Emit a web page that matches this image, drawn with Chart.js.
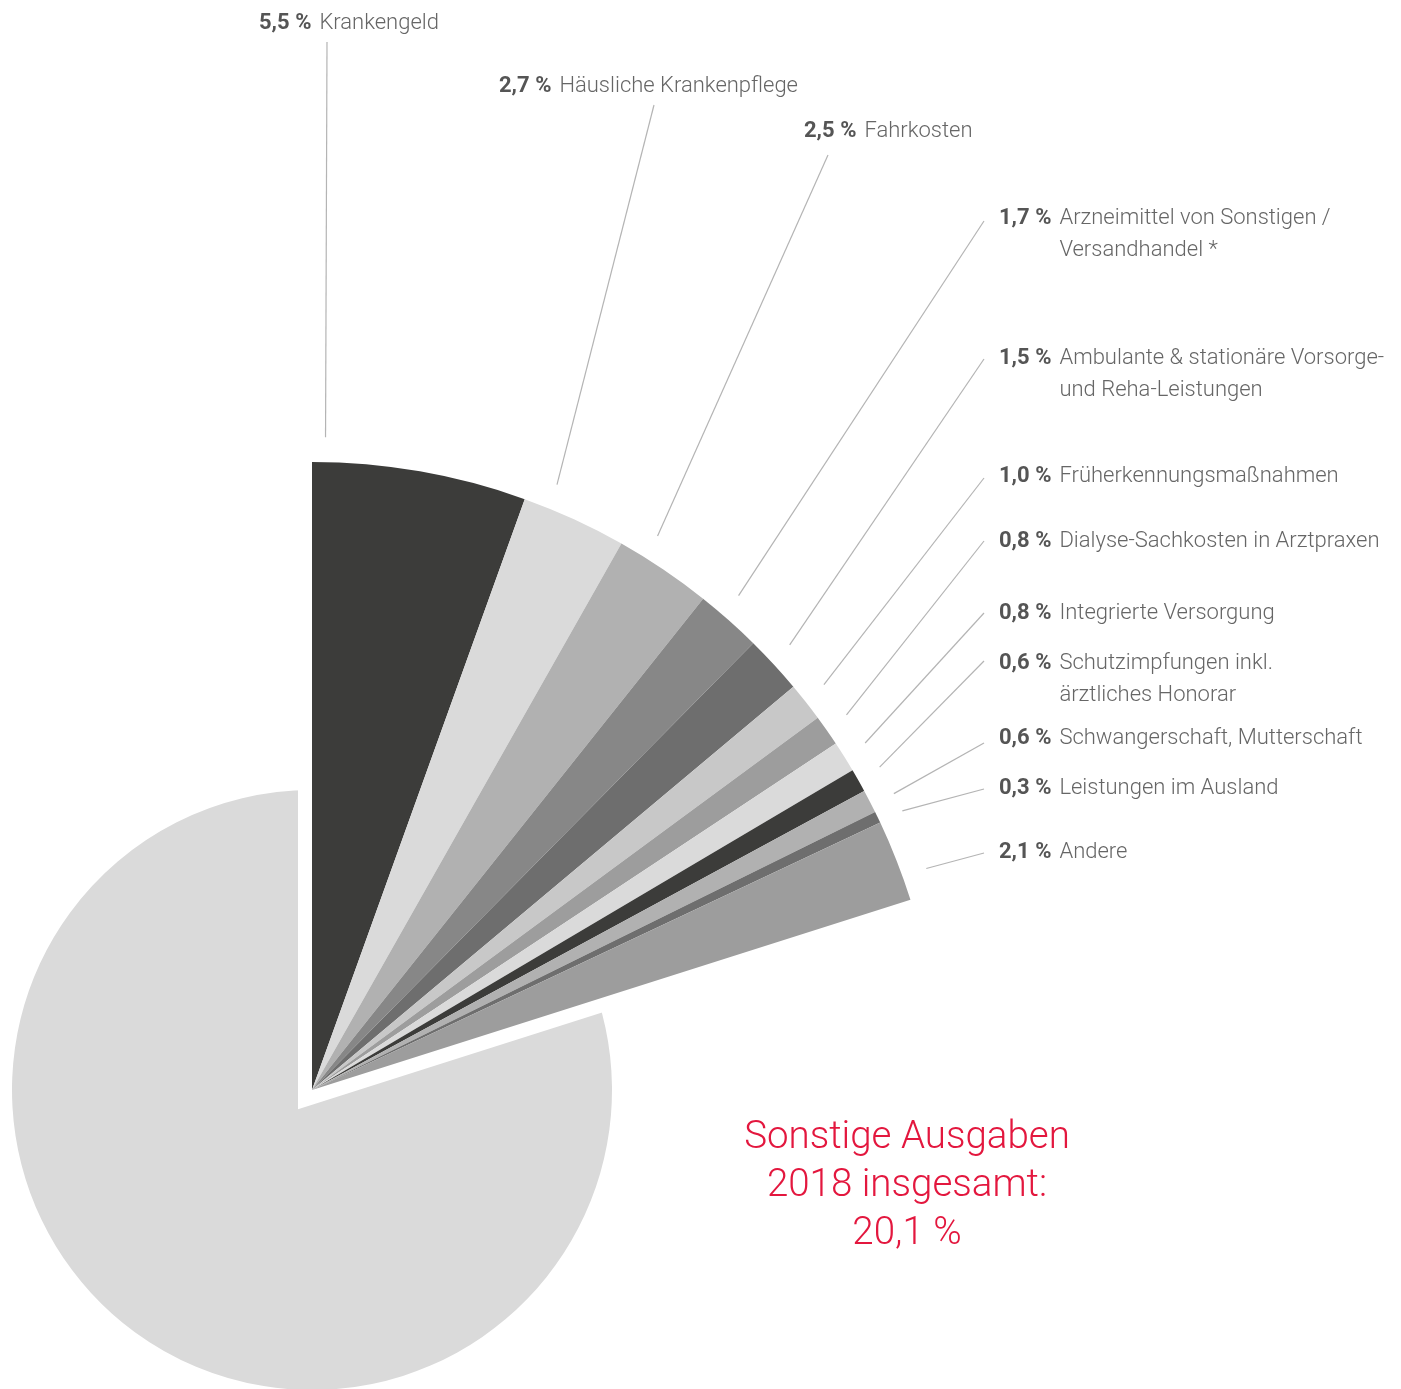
<!DOCTYPE html>
<html><head><meta charset="utf-8">
<script src="https://cdn.jsdelivr.net/npm/chart.js@4.4.0/dist/chart.umd.min.js"></script>
<style>
html,body{margin:0;padding:0;background:#fff;overflow:hidden;width:1401px;height:1389px;}
#wrap{position:relative;width:1401px;height:1389px;}
canvas{position:absolute;left:0;top:0;}
.lbl{position:absolute;display:flex;font-family:Roboto,'Liberation Sans',sans-serif;font-size:22px;line-height:32px;color:#666;font-weight:300;white-space:nowrap;}
.lbl b{font-weight:700;color:#555;margin-right:8px;}
#total{position:absolute;left:657px;width:500px;top:1111px;text-align:center;font-family:Roboto,'Liberation Sans',sans-serif;font-size:38.5px;line-height:48px;color:#e3173e;font-weight:300;}
</style></head>
<body><div id="wrap">
<canvas id="base" width="1401" height="1389"></canvas>
<canvas id="main" width="1401" height="1389"></canvas>
<div id="labels"></div>
<div id="total"></div>
</div>
<script>
// ---- data ----
const categories = [
  'Krankengeld',
  'Häusliche Krankenpflege',
  'Fahrkosten',
  'Arzneimittel von Sonstigen /\nVersandhandel *',
  'Ambulante & stationäre Vorsorge-\nund Reha-Leistungen',
  'Früherkennungsmaßnahmen',
  'Dialyse-Sachkosten in Arztpraxen',
  'Integrierte Versorgung',
  'Schutzimpfungen inkl.\närztliches Honorar',
  'Schwangerschaft, Mutterschaft',
  'Leistungen im Ausland',
  'Andere'
];
const shares = [5.5, 2.7, 2.5, 1.7, 1.5, 1.0, 0.8, 0.8, 0.6, 0.6, 0.3, 2.1];
const otherLabel = 'Übrige Ausgaben';
const otherShare = 79.9;
const totalTitleLines = ['Sonstige Ausgaben', '2018 insgesamt:'];

// ---- styles / layout ----
const sliceColors = ['#3c3c3a', '#dadada', '#b1b1b1', '#878787', '#6e6e6e', '#c8c8c8',
                     '#9d9d9d', '#dadada', '#3c3c3a', '#b1b1b1', '#6e6e6e', '#9d9d9d'];
const otherColor = '#dadada';
const labelPos = [[259,22],[499,85],[804,130],[999,217],[999,357],[999,475],
                  [999,540],[999,612],[999,662],[999,737],[999,787],[999,851]];
const leaderTop = [[327,42],[654,105],[828,155],[984,221],[984,359],[984,478],
                   [984,541],[984,613],[984,661],[984,743],[984,789],[984,853]];
const leaderAt = [0.06,0.23,0.27,0.37,0.44,0.44,0.45,0.48,0.45,0.67,0.9,0.71];
const leaderGap = 25;
const pad = {left:0, right:777, top:791, bottom:0};

const fmt = v => v.toFixed(1).replace('.', ',') + ' %';
const sharesTotal = shares.reduce((a,b)=>a+b, 0);

// labels (HTML text)
const lblWrap = document.getElementById('labels');
categories.forEach((c, i) => {
  const d = document.createElement('div');
  d.className = 'lbl';
  d.style.left = labelPos[i][0] + 'px';
  d.style.top = (labelPos[i][1] - 16) + 'px';
  const b = document.createElement('b');
  b.textContent = fmt(shares[i]);
  const s = document.createElement('span');
  s.innerHTML = c.split('\n').map(t => t.replace(/&/g,'&amp;')).join('<br>');
  d.appendChild(b); d.appendChild(s);
  lblWrap.appendChild(d);
});
document.getElementById('total').innerHTML =
  totalTitleLines.join('<br>') + '<br>' + fmt(sharesTotal);

const leaderPlugin = {
  id: 'leaders',
  afterDatasetsDraw(chart) {
    const ctx = chart.ctx;
    const arcs = chart.getDatasetMeta(0).data;
    ctx.save();
    ctx.strokeStyle = '#b4b4b4';
    ctx.lineWidth = 1.2;
    shares.forEach((v, i) => {
      const p = arcs[i].getProps(['x','y','startAngle','endAngle','outerRadius'], true);
      const ang = p.startAngle + (p.endAngle - p.startAngle) * leaderAt[i];
      const r = p.outerRadius + leaderGap;
      ctx.beginPath();
      ctx.moveTo(p.x + Math.cos(ang) * r, p.y + Math.sin(ang) * r);
      ctx.lineTo(leaderTop[i][0], leaderTop[i][1]);
      ctx.stroke();
    });
    ctx.restore();
  }
};

const common = {
  responsive: false,
  animation: false,
  events: [],
  layout: {padding: pad},
  plugins: {legend: {display: false}, tooltip: {enabled: false}}
};

// base: remaining 79.9 % (small grey pie), with white gap around the exploded wedge
new Chart(document.getElementById('base'), {
  type: 'pie',
  data: {
    labels: [otherLabel, 'Sonstige Ausgaben'],
    datasets: [{
      data: [otherShare, sharesTotal],
      backgroundColor: [otherColor, '#ffffff'],
      borderColor: '#ffffff',
      borderWidth: [0, 28],
      borderJoinStyle: 'miter',
      clip: false
    }]
  },
  options: Object.assign({}, common, {
    radius: 300,
    rotation: sharesTotal / (sharesTotal + otherShare) * 360
  })
});

// main: exploded wedge of "Sonstige Ausgaben"
new Chart(document.getElementById('main'), {
  type: 'pie',
  data: {
    labels: categories.concat([otherLabel]),
    datasets: [{
      data: shares.concat([otherShare]),
      backgroundColor: sliceColors.concat(['rgba(0,0,0,0)']),
      borderWidth: 0,
      clip: false
    }]
  },
  options: Object.assign({}, common, {radius: 628}),
  plugins: [leaderPlugin]
});
</script>
</body></html>
